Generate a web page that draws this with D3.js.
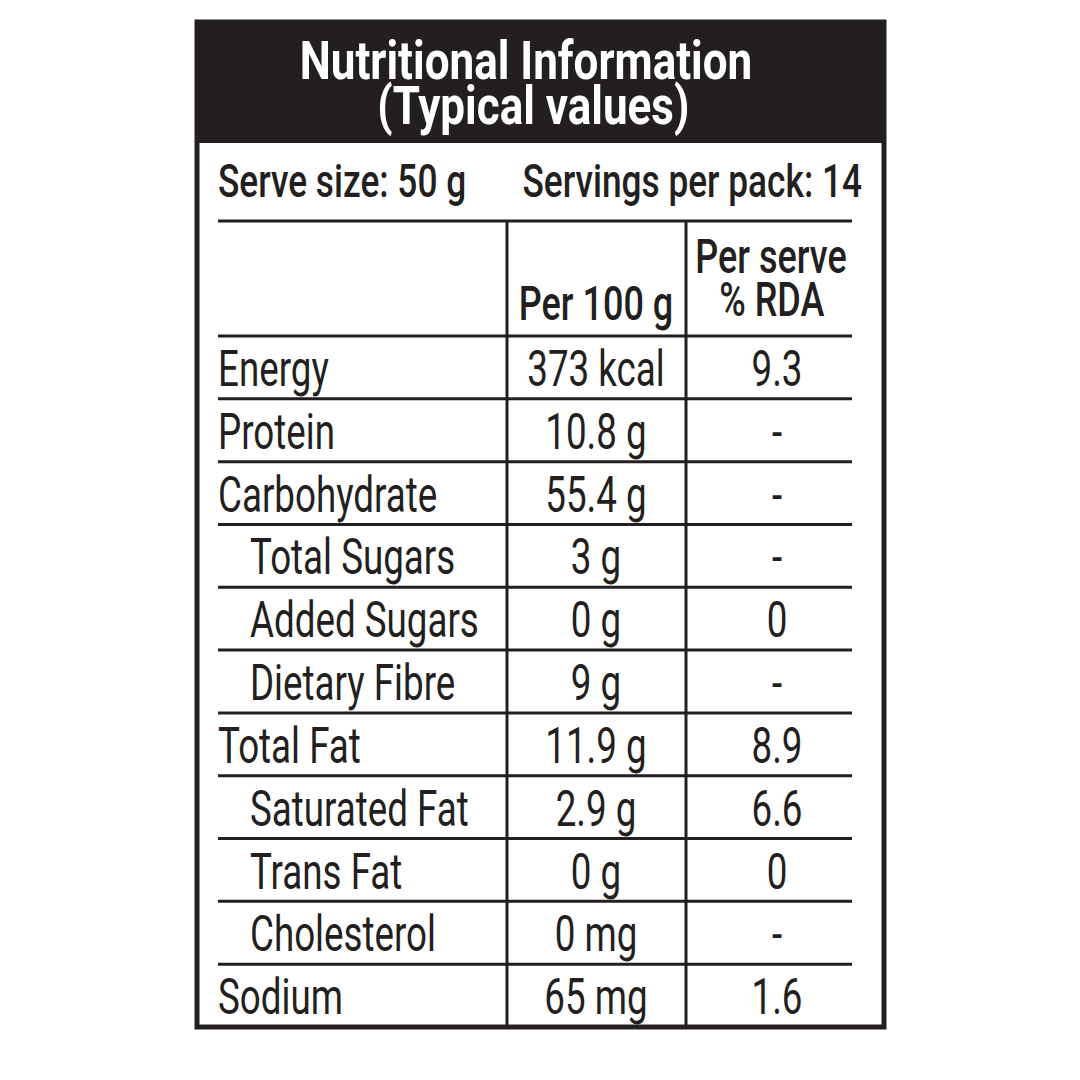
<!DOCTYPE html>
<html><head><meta charset="utf-8">
<script src="https://cdn.jsdelivr.net/npm/d3@7"></script>
<style>html,body{margin:0;padding:0;background:#fff;}svg{display:block;}</style>
</head><body>
<svg id="c" width="1080" height="1080"></svg>
<script>
const titleLines = ["Nutritional Information", "(Typical values)"];
const serveSize = "Serve size: 50 g";
const servingsPerPack = "Servings per pack: 14";
const colHeaders = [["Per 100 g"], ["Per serve", "% RDA"]];
const nutrients = ["Energy","Protein","Carbohydrate","Total Sugars","Added Sugars","Dietary Fibre","Total Fat","Saturated Fat","Trans Fat","Cholesterol","Sodium"];
const per100g = ["373 kcal","10.8 g","55.4 g","3 g","0 g","9 g","11.9 g","2.9 g","0 g","0 mg","65 mg"];
const perServeRDA = ["9.3","-","-","-","0","-","8.9","6.6","0","-","1.6"];
const subItems = ["Total Sugars","Added Sugars","Dietary Fibre","Saturated Fat","Trans Fat","Cholesterol"];

const ink = "#231f20";
const svg = d3.select("#c");
const font = "Roboto, 'Liberation Sans', sans-serif";
const sx = 0.75;

const box = {x0: 197, x1: 884, y0: 22, y1: 1027};
const headerBottom = 143;
const lineX0 = 218, lineX1 = 852;
const colX = [507, 686];
const tableTop = 221, headRowBottom = 336;

const y = d3.scaleBand().domain(nutrients).range([headRowBottom, box.y1]).paddingInner(0);

// multi-line text as a single <text> with tspans
function txt(g, lines, x, yy, opts) {
  opts = opts || {};
  if (!Array.isArray(lines)) lines = [lines];
  const t = g.append("text")
    .attr("transform", `translate(${x},${yy}) scale(${opts.sx || sx},1)`)
    .attr("text-anchor", opts.anchor || "start")
    .attr("font-family", font)
    .attr("font-size", opts.size || 50)
    .attr("font-weight", opts.weight || 400)
    .attr("fill", opts.fill || ink);
  lines.forEach((s, i) => {
    t.append("tspan").attr("x", (opts.dx && opts.dx[i]) || 0).attr("y", i * (opts.lh || 0)).text(s);
  });
  return t;
}

// header band
svg.append("rect").attr("x", box.x0).attr("y", box.y0).attr("width", box.x1 - box.x0).attr("height", headerBottom - box.y0).attr("fill", ink);
txt(svg, titleLines, 526, 79, {anchor: "middle", size: 54, weight: 700, fill: "#fff", sx: 0.815, lh: 45, dx: [0, 9]});

// serve line
txt(svg, serveSize, 218, 197, {size: 47, weight: 500});
txt(svg, servingsPerPack, 862, 197, {size: 47, anchor: "end", weight: 500});

// horizontal lines
const hl = [tableTop, headRowBottom].concat(nutrients.slice(1).map(n => y(n)));
svg.selectAll("line.h").data(hl).join("line").attr("class", "h")
  .attr("x1", lineX0).attr("x2", lineX1).attr("y1", d => d).attr("y2", d => d)
  .attr("stroke", ink).attr("stroke-width", 3);
// vertical lines
svg.selectAll("line.v").data(colX).join("line").attr("class", "v")
  .attr("x1", d => d).attr("x2", d => d).attr("y1", tableTop).attr("y2", box.y1)
  .attr("stroke", ink).attr("stroke-width", 3);

// column headers
txt(svg, colHeaders[0], 596, 320, {anchor: "middle", size: 48, weight: 500});
txt(svg, colHeaders[1], 771, 273, {anchor: "middle", size: 48, weight: 500, lh: 43, dx: [0, 1]});

// rows
const c2 = 596, c3 = 777;
nutrients.forEach((n, i) => {
  const by = y(n) + 50;
  txt(svg, n, subItems.includes(n) ? 250 : 218, by, {size: 49});
  txt(svg, per100g[i], c2, by, {anchor: "middle", size: 49});
  txt(svg, perServeRDA[i], c3, by, {anchor: "middle", size: 49});
});

// outer border
svg.append("rect").attr("x", box.x0).attr("y", box.y0).attr("width", box.x1 - box.x0).attr("height", box.y1 - box.y0)
  .attr("fill", "none").attr("stroke", ink).attr("stroke-width", 5);
</script>
</body></html>
